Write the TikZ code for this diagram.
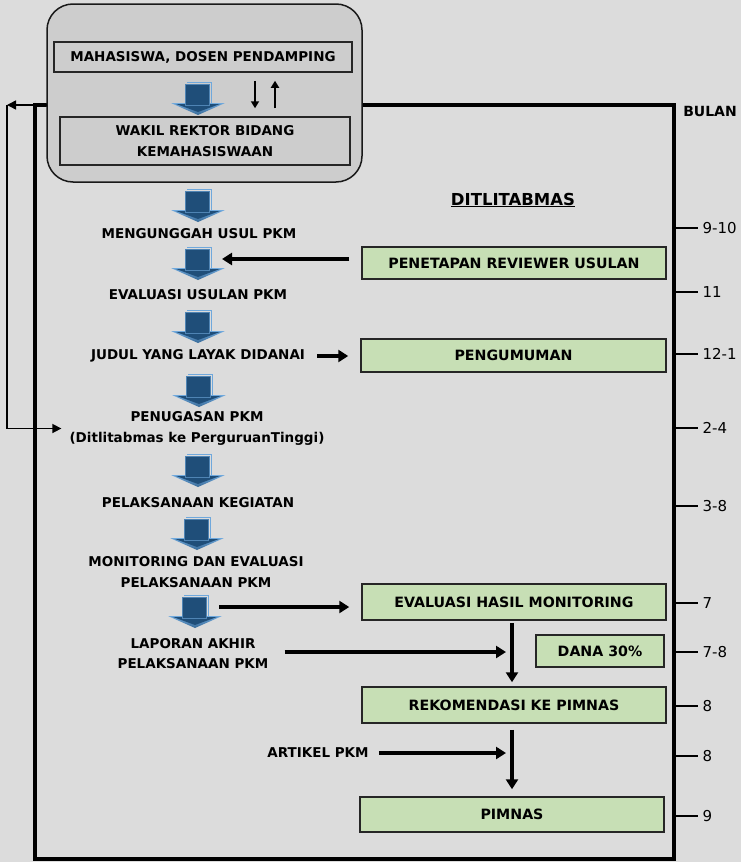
\documentclass[tikz,border=0pt]{standalone}
\usepackage{fontspec}
\setmainfont{DejaVu Sans}
\usetikzlibrary{positioning,arrows.meta}

\definecolor{bggray}{HTML}{DCDCDC}
\definecolor{boxgray}{HTML}{CDCDCD}
\definecolor{boxgreen}{HTML}{C7DFB5}
\definecolor{arrowdark}{HTML}{1F4E79}
\definecolor{arrowlight}{HTML}{6FA8DC}

\tikzset{
  lbl/.style={font=\fontsize{13.5}{20.5}\selectfont\bfseries, align=center, inner sep=1pt},
  tick/.style={font=\fontsize{15}{18}\selectfont, inner sep=4pt},
  greybox/.style={draw=black!85, line width=1.5pt, fill=boxgray, inner sep=0pt, align=center,
    font=\fontsize{13.5}{20.5}\selectfont\bfseries},
  greenbox/.style={draw=black!85, line width=1.5pt, fill=boxgreen, inner sep=0pt,
    font=\fontsize{14.2}{17}\selectfont\bfseries},
  flow/.style={line width=4pt, -{Triangle[length=10pt,width=12pt]}},
  smallarr/.style={line width=2pt, -{Triangle[length=7pt,width=8pt]}},
  thinarr/.style={line width=1.5pt, -{Triangle[length=9pt,width=9pt]}},
  bluearrow/.pic={
    \shade[top color=arrowlight, bottom color=arrowdark!70!arrowlight]
      (-27,21) -- (27,21) -- (0,33) -- cycle;
    \fill[arrowdark] (-22,22) -- (22,22) -- (0,30) -- cycle;
    \draw[arrowlight, line width=1pt] (-11,0) -- (13,0) -- (13,21);
    \fill[arrowdark, draw=arrowlight!60!arrowdark, line width=0.6pt] (-13,2) rectangle (11,23);
    \coordinate (-east) at (24,12);
  }
}

\begin{document}
\begin{tikzpicture}[x=1pt,y=-1pt]
  \fill[bggray] (0,0) rectangle (741,862);
  \useasboundingbox (0,0) rectangle (741,862);

  % frame and student group
  \draw[line width=4pt] (35,105) rectangle (674,858.5);
  \node[draw=black!90, line width=1.5pt, fill=boxgray, rounded corners=26pt,
    minimum width=315, minimum height=178] (grp) at (204.5,93) {};
  \node[greybox, minimum width=298, minimum height=30] (mhs) at (203,57) {MAHASISWA, DOSEN PENDAMPING};
  \node[greybox, minimum width=290, minimum height=48] (wr) at (205,141) {WAKIL REKTOR BIDANG\\KEMAHASISWAAN};
  \pic at (198,82) {bluearrow};
  \draw[smallarr] ([xshift=52pt,yshift=-8pt]mhs.south) -- ([xshift=50pt,yshift=8pt]wr.north);
  \draw[smallarr] ([xshift=70pt,yshift=8pt]wr.north) -- ([xshift=72pt,yshift=-8pt]mhs.south);

  \node[lbl, font=\fontsize{14}{17}\selectfont\bfseries] (bulan) at (710,111) {BULAN};
  \node[lbl, font=\fontsize{16.5}{20}\selectfont\bfseries] (dit) at (513,200) {\underline{DITLITABMAS}};

  % left column
  \pic (a1) at (198,189) {bluearrow};
  \node[lbl] (upl) at (199,234) {MENGUNGGAH USUL PKM};
  \pic (a2) at (198,247) {bluearrow};
  \node[lbl] (evu) at (198,295) {EVALUASI USULAN PKM};
  \pic (a3) at (198,310) {bluearrow};
  \node[lbl] (judul) at (198,356) {JUDUL YANG LAYAK DIDANAI};
  \pic (a4) at (199,374) {bluearrow};
  \node[lbl] (pen) at (197,428.5) {PENUGASAN PKM\\(Ditlitabmas ke PerguruanTinggi)};
  \pic (a5) at (198,454) {bluearrow};
  \node[lbl] (lak) at (198,503) {PELAKSANAAN KEGIATAN};
  \pic (a6) at (197,517) {bluearrow};
  \node[lbl] (mon) at (196,572) {MONITORING DAN EVALUASI\\PELAKSANAAN PKM};
  \pic (a7) at (195,595) {bluearrow};
  \node[lbl] (lap) at (193,653.5) {LAPORAN AKHIR\\PELAKSANAAN PKM};
  \node[lbl] (art) at (318,753) {ARTIKEL PKM};

  % ditlitabmas column
  \node[greenbox, minimum width=304, minimum height=32] (rev) at (514,263) {PENETAPAN REVIEWER USULAN};
  \node[greenbox, minimum width=305, minimum height=33] (umum) at (513.5,355.5) {PENGUMUMAN};
  \node[greenbox, minimum width=304, minimum height=36] (evh) at (514,602) {EVALUASI HASIL MONITORING};
  \node[greenbox, minimum width=128, minimum height=32] (dana) at (600,651) {DANA 30\%};
  \node[greenbox, minimum width=304, minimum height=36] (rek) at (514,705) {REKOMENDASI KE PIMNAS};
  \node[greenbox, minimum width=304, minimum height=35] (pim) at (512,814.5) {PIMNAS};

  % connectors
  \draw[flow, shorten <=12pt] (rev.west |- a2-east) -- (a2-east);
  \draw[flow, shorten <=11pt, shorten >=12pt] (judul.east) -- (umum.west |- judul.east);
  \draw[flow, shorten >=12pt] (a7-east) -- (evh.west |- a7-east);
  \draw[flow, shorten >=8pt] ([xshift=15pt,yshift=1.5pt]lap.east) -- ([yshift=1.5pt]lap.east -| evh.south);
  \draw[flow] ([xshift=-2pt,yshift=-2pt]evh.south) -- ([xshift=-2pt,yshift=4pt]rek.north);
  \draw[flow, shorten >=8pt] ([xshift=9pt]art.east) -- (art.east -| rek.south);
  \draw[flow] ([xshift=-2pt,yshift=-6pt]rek.south) -- ([yshift=7pt]pim.north);

  % return path to the campus
  \coordinate (split) at (7,105);
  \draw[thinarr] (47,105) -- (split);
  \draw[thinarr] (split) |- ([xshift=-7pt]pen.west);

  % month scale
  \foreach \y/\t in {228/9-10, 292/11, 354/12-1, 428/2-4, 506/3-8, 603/7, 652/7-8, 706/8, 756/8, 816/9}
    \draw[line width=1.3pt] (674,\y) -- (698,\y) node[tick, right] (m\y) {\t};
\end{tikzpicture}
\end{document}
